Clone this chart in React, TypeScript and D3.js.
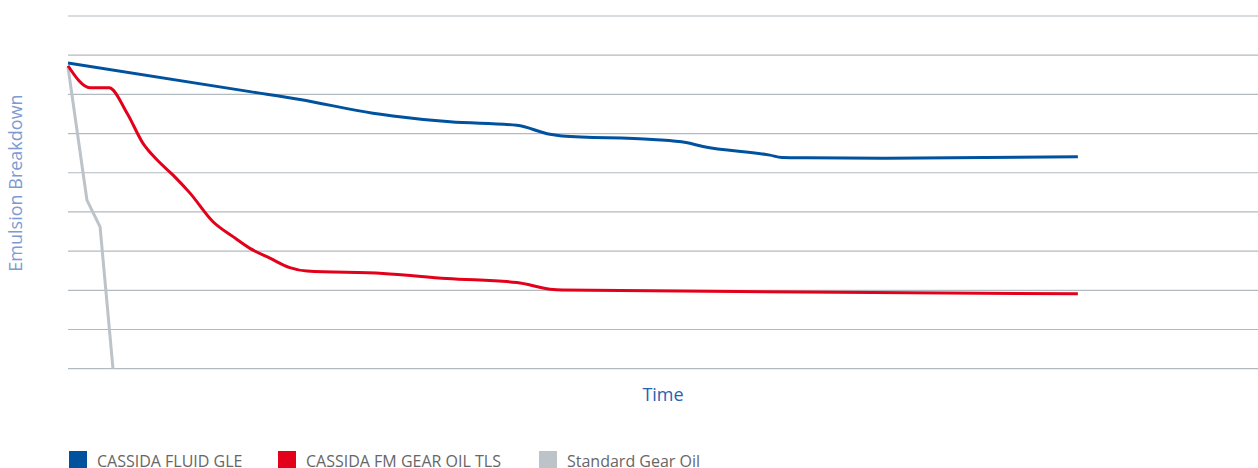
import * as d3 from 'd3';

// chart data (time in arbitrary units, emulsion breakdown level)
const blueTime = [0, 9.02, 11.5, 15.12, 16.11, 18.94, 22.26, 23.9, 24.49, 28.99, 30.64, 31.48, 34.8, 35.4, 36.64, 40.56, 50.07];
const blueValue = [7.8, 7.07, 6.87, 6.52, 6.45, 6.3, 6.21, 5.98, 5.94, 5.85, 5.77, 5.67, 5.45, 5.39, 5.38, 5.37, 5.41];

const redTime = [0, 1.09, 2.03, 2.93, 3.72, 4.41, 5.21, 6.05, 7.19, 8.18, 9.02, 10.01, 11.0, 11.85, 15.62, 18.79, 22.26, 23.9, 24.49, 36.29, 50.07];
const redValue = [7.73, 7.17, 7.17, 6.52, 5.75, 5.33, 4.94, 4.48, 3.75, 3.37, 3.07, 2.82, 2.58, 2.49, 2.43, 2.3, 2.2, 2.03, 2.01, 1.96, 1.91];

const grayTime = [0, 0.94, 1.59, 2.23];
const grayValue = [7.7, 4.3, 3.62, 0];

const gridValues = [0, 1, 2, 3, 4, 5, 6, 7, 8, 9];

const seriesNames = ['CASSIDA FLUID GLE', 'CASSIDA FM GEAR OIL TLS', 'Standard Gear Oil'];
const seriesColors = ['#00529f', '#e3001b', '#bcc3c9'];

const width = 1258;
const height = 468;

export default function App() {
  const margin = { left: 68, right: 0, top: 16, bottom: 99.3 };

  const x = d3.scaleLinear().domain([0, 59]).range([margin.left, width - margin.right]);
  const y = d3.scaleLinear().domain([0, 9]).range([height - margin.bottom, margin.top]);

  const smooth = d3
    .line<[number, number]>()
    .x(d => x(d[0]))
    .y(d => y(d[1]))
    .curve(d3.curveMonotoneX);
  const straight = d3
    .line<[number, number]>()
    .x(d => x(d[0]))
    .y(d => y(d[1]));

  const series = [
    { pts: d3.zip(grayTime, grayValue) as [number, number][], color: seriesColors[2], gen: straight },
    { pts: d3.zip(redTime, redValue) as [number, number][], color: seriesColors[1], gen: smooth },
    { pts: d3.zip(blueTime, blueValue) as [number, number][], color: seriesColors[0], gen: smooth },
  ];

  const legendX = [69, 278, 539];
  const font = '"Open Sans", "Noto Sans", sans-serif';

  return (
    <svg
      width={width}
      height={height}
      style={{ position: 'absolute', left: 0, top: 0, background: '#fff' }}
    >
      <g>
        {gridValues.map(v => (
          <line
            key={v}
            x1={x.range()[0]}
            x2={x.range()[1]}
            y1={y(v)}
            y2={y(v)}
            stroke="#b3babf"
            strokeWidth={1.2}
          />
        ))}
      </g>
      <g fill="none" strokeWidth={3} strokeLinejoin="round">
        {series.map((s, i) => (
          <path key={i} d={s.gen(s.pts) ?? ''} stroke={s.color} />
        ))}
      </g>
      <text
        transform={`translate(22,183) rotate(-90)`}
        textAnchor="middle"
        fontFamily={font}
        fontSize={18}
        fill="#7d9bd2"
      >
        Emulsion Breakdown
      </text>
      <text x={663} y={401} textAnchor="middle" fontFamily={font} fontSize={18} fill="#2762b0">
        Time
      </text>
      <g fontFamily={font} fontSize={16} fill="#666">
        {seriesNames.map((name, i) => (
          <g key={name} transform={`translate(${legendX[i]},451)`}>
            <rect width={18} height={18} fill={seriesColors[i]} />
            <text x={28} y={16}>
              {name}
            </text>
          </g>
        ))}
      </g>
    </svg>
  );
}
